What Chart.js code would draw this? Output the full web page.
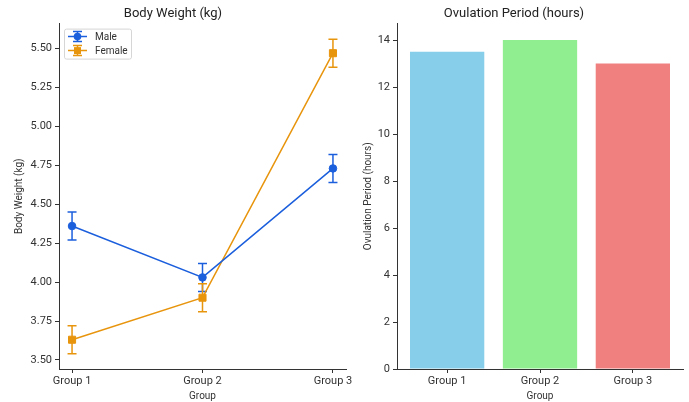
<!DOCTYPE html>
<html>
<head>
<meta charset="utf-8">
<script src="https://cdn.jsdelivr.net/npm/chart.js@4.4.1/dist/chart.umd.min.js"></script>
<style>
  body { margin: 0; background: #fff; }
  #wrap { position: relative; width: 689px; height: 402px; }
  canvas { position: absolute; top: 0; }
</style>
</head>
<body>
<div id="wrap">
  <canvas id="bodyWeight" width="352" height="402" style="left:0"></canvas>
  <canvas id="ovulation" width="344" height="402" style="left:345px"></canvas>
</div>
<script>
// data
var groups = ["Group 1", "Group 2", "Group 3"];
var maleWeight = [4.36, 4.03, 4.73];
var maleErr = [0.09, 0.09, 0.09];
var femaleWeight = [3.63, 3.90, 5.47];
var femaleErr = [0.09, 0.09, 0.09];
var weightTicks = [3.50, 3.75, 4.00, 4.25, 4.50, 4.75, 5.00, 5.25, 5.50];
var ovulationHours = [13.5, 14.0, 13.0];
var hourTicks = [0, 2, 4, 6, 8, 10, 12, 14];

var barColors = ["#87CEEB", "#90EE90", "#F08080"];
var maleColor = "#1c5fdd";
var femaleColor = "#e8950e";
var axisColor = "#333333";

Chart.defaults.font.family = "Roboto, 'DejaVu Sans', sans-serif";
Chart.defaults.color = "#333";

function points(values) {
  return values.map(function (v, i) { return { x: i, y: v }; });
}

// fixed tick positions at the groups
function groupTicks(scale) {
  scale.ticks = groups.map(function (g, i) { return { value: i }; });
}

function noPad(scale) {
  scale.paddingLeft = 0;
  scale.paddingRight = 0;
  scale.paddingTop = 0;
  scale.paddingBottom = 0;
}

// vertical error bars with caps
var errorBars = {
  id: "errorBars",
  beforeDatasetsDraw: function (chart) {
    var ctx = chart.ctx;
    var xs = chart.scales.x, ys = chart.scales.y;
    chart.data.datasets.forEach(function (ds) {
      if (!ds.errors) return;
      ctx.save();
      ctx.strokeStyle = ds.borderColor;
      ctx.lineWidth = 1.5;
      ds.data.forEach(function (p, i) {
        var x = xs.getPixelForValue(p.x);
        var top = ys.getPixelForValue(p.y + ds.errors[i]);
        var bot = ys.getPixelForValue(p.y - ds.errors[i]);
        ctx.beginPath();
        ctx.moveTo(x, top); ctx.lineTo(x, bot);
        ctx.moveTo(x - 4.5, top); ctx.lineTo(x + 4.5, top);
        ctx.moveTo(x - 4.5, bot); ctx.lineTo(x + 4.5, bot);
        ctx.stroke();
      });
      ctx.restore();
    });
  }
};

// matplotlib-like legend box in the upper left corner
var innerLegend = {
  id: "innerLegend",
  afterDraw: function (chart) {
    var ctx = chart.ctx;
    var a = chart.chartArea;
    var bx = a.left + 5, by = a.top + 5, bw = 67, bh = 30;
    ctx.save();
    ctx.fillStyle = "rgba(255,255,255,0.8)";
    ctx.strokeStyle = "#d6d6d6";
    ctx.lineWidth = 1;
    ctx.beginPath();
    ctx.roundRect(bx + 0.5, by + 0.5, bw, bh, 2);
    ctx.fill();
    ctx.stroke();
    chart.data.datasets.forEach(function (ds, i) {
      var y = by + 8 + i * 14;
      var x0 = bx + 4, x1 = bx + 23, xm = (x0 + x1) / 2;
      ctx.strokeStyle = ds.borderColor;
      ctx.fillStyle = ds.borderColor;
      ctx.lineWidth = 1.5;
      ctx.beginPath();
      ctx.moveTo(x0, y); ctx.lineTo(x1, y);
      ctx.moveTo(xm, y - 5); ctx.lineTo(xm, y + 5);
      ctx.moveTo(xm - 4.5, y - 5); ctx.lineTo(xm + 4.5, y - 5);
      ctx.moveTo(xm - 4.5, y + 5); ctx.lineTo(xm + 4.5, y + 5);
      ctx.stroke();
      ctx.beginPath();
      if (ds.pointStyle === "rect") {
        ctx.rect(xm - 3.5, y - 3.5, 7, 7);
      } else {
        ctx.arc(xm, y, 3.8, 0, Math.PI * 2);
      }
      ctx.fill();
      ctx.fillStyle = "#333";
      ctx.font = "10px Roboto, sans-serif";
      ctx.textBaseline = "middle";
      ctx.textAlign = "left";
      ctx.fillText(ds.label, bx + 31, y + 0.5);
    });
    ctx.restore();
  }
};

var axisGrid = {
  display: true,
  drawOnChartArea: false,
  drawTicks: true,
  tickLength: 4,
  color: axisColor,
  lineWidth: 1
};
var axisBorder = { display: true, color: axisColor, width: 1 };

new Chart(document.getElementById("bodyWeight"), {
  type: "line",
  data: {
    datasets: [
      {
        label: "Male",
        data: points(maleWeight),
        errors: maleErr,
        borderColor: maleColor,
        backgroundColor: maleColor,
        borderWidth: 1.5,
        pointStyle: "circle",
        pointRadius: 3.8,
        pointBorderWidth: 1
      },
      {
        label: "Female",
        data: points(femaleWeight),
        errors: femaleErr,
        borderColor: femaleColor,
        backgroundColor: femaleColor,
        borderWidth: 1.5,
        pointStyle: "rect",
        pointRadius: 5,
        pointBorderWidth: 1
      }
    ]
  },
  options: {
    responsive: false,
    animation: false,
    layout: { padding: { left: 0, right: 6, top: 0, bottom: 0 } },
    plugins: {
      legend: { display: false },
      tooltip: { enabled: false },
      title: {
        display: true,
        text: "Body Weight (kg)",
        color: "#222",
        font: { size: 13, weight: "normal" },
        padding: { top: 6, bottom: 2 }
      }
    },
    scales: {
      x: {
        type: "linear",
        min: -0.1,
        max: 2.1,
        afterBuildTicks: groupTicks,
        afterFit: function (s) { s.height = 33; noPad(s); },
        grid: axisGrid,
        border: axisBorder,
        ticks: {
          padding: 2,
          font: { size: 11 },
          color: "#333",
          callback: function (v) { return groups[v]; }
        },
        title: {
          display: true,
          text: "Group",
          font: { size: 10 },
          color: "#333",
          padding: { top: 2, bottom: 0 }
        }
      },
      y: {
        min: 3.442,
        max: 5.66,
        afterBuildTicks: function (s) {
          s.ticks = weightTicks.map(function (v) { return { value: v }; });
        },
        afterFit: function (s) { s.width = 59; noPad(s); },
        grid: axisGrid,
        border: axisBorder,
        ticks: {
          padding: 3,
          font: { size: 11 },
          color: "#333",
          callback: function (v) { return v.toFixed(2); }
        },
        title: {
          display: true,
          text: "Body Weight (kg)",
          font: { size: 10 },
          color: "#333",
          padding: { top: 13, bottom: 0 }
        }
      }
    }
  },
  plugins: [errorBars, innerLegend]
});

new Chart(document.getElementById("ovulation"), {
  type: "bar",
  data: {
    datasets: [
      {
        label: "Ovulation Period (hours)",
        data: points(ovulationHours),
        backgroundColor: barColors,
        borderWidth: 0,
        barPercentage: 0.8,
        categoryPercentage: 1
      }
    ]
  },
  options: {
    responsive: false,
    animation: false,
    layout: { padding: { left: 0, right: 6, top: 0, bottom: 0 } },
    plugins: {
      legend: { display: false },
      tooltip: { enabled: false },
      title: {
        display: true,
        text: "Ovulation Period (hours)",
        color: "#222",
        font: { size: 13, weight: "normal" },
        padding: { top: 6, bottom: 2 }
      }
    },
    scales: {
      x: {
        type: "linear",
        offset: false,
        min: -0.54,
        max: 2.54,
        afterBuildTicks: groupTicks,
        afterFit: function (s) { s.height = 33; noPad(s); },
        grid: Object.assign({}, axisGrid, { offset: false }),
        border: axisBorder,
        ticks: {
          padding: 2,
          font: { size: 11 },
          color: "#333",
          callback: function (v) { return groups[v]; }
        },
        title: {
          display: true,
          text: "Group",
          font: { size: 10 },
          color: "#333",
          padding: { top: 2, bottom: 0 }
        }
      },
      y: {
        min: 0,
        max: 14.7,
        afterBuildTicks: function (s) {
          s.ticks = hourTicks.map(function (v) { return { value: v }; });
        },
        afterFit: function (s) { s.width = 52; noPad(s); },
        grid: axisGrid,
        border: axisBorder,
        ticks: {
          padding: 3,
          font: { size: 11 },
          color: "#333"
        },
        title: {
          display: true,
          text: "Ovulation Period (hours)",
          font: { size: 10 },
          color: "#333",
          padding: { top: 17, bottom: 0 }
        }
      }
    }
  }
});
</script>
</body>
</html>
